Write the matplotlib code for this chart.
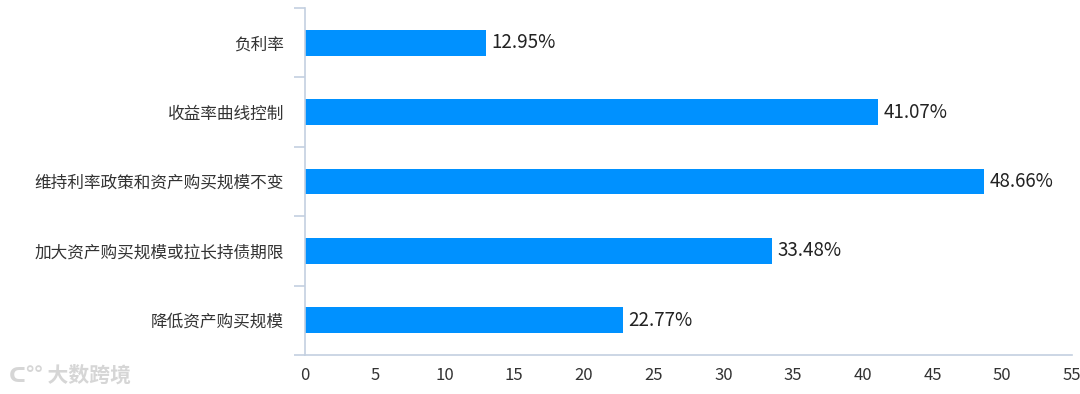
import matplotlib.pyplot as plt
import numpy as np

plt.rcParams['font.family'] = ['Noto Sans CJK SC', 'DejaVu Sans']

# dados
categorias = ['负利率', '收益率曲线控制', '维持利率政策和资产购买规模不变',
              '加大资产购买规模或拉长持债期限', '降低资产购买规模']
valores = [12.95, 41.07, 48.66, 33.48, 22.77]
xticks = [0, 5, 10, 15, 20, 25, 30, 35, 40, 45, 50, 55]

cor_barra = '#0091ff'
cor_eixo = '#c3d0e0'

fig = plt.figure(figsize=(10.8, 3.94), dpi=100)
ax = fig.add_axes([0.2824, 0.099, 0.7102, 0.8807])

y = np.arange(len(categorias))
ax.barh(y, valores, height=0.37, color=cor_barra)
ax.set_ylim(len(categorias) - 0.5, -0.5)
ax.set_xlim(0, 55)

for yi, v in zip(y, valores):
    ax.text(v + 0.4, yi, f'{v:.2f}%', va='center', ha='left', fontsize=13.5, color='#222222')

ax.set_yticks(y)
ax.set_yticklabels(categorias, fontsize=12, color='#333333')
ax.tick_params(axis='y', which='major', length=0, pad=15)
ax.set_yticks(np.arange(-0.5, len(categorias)), minor=True)
ax.tick_params(axis='y', which='minor', length=8, color=cor_eixo, width=1.2)

ax.set_xticks(xticks)
ax.set_xticklabels([str(t) for t in xticks], fontsize=12, color='#333333')
ax.tick_params(axis='x', length=0, pad=9)

for s in ['top', 'right']:
    ax.spines[s].set_visible(False)
ax.spines['left'].set_color(cor_eixo)
ax.spines['bottom'].set_color(cor_eixo)
ax.spines['left'].set_linewidth(1.2)
ax.spines['bottom'].set_linewidth(1.2)

# marca d'agua
fig.text(0.008, 0.048, 'ᑕ°° 大数跨境', fontsize=15, color='#d6d6d6', ha='left', va='center',
         fontweight='bold')

fig.savefig('out.png', dpi=100)
